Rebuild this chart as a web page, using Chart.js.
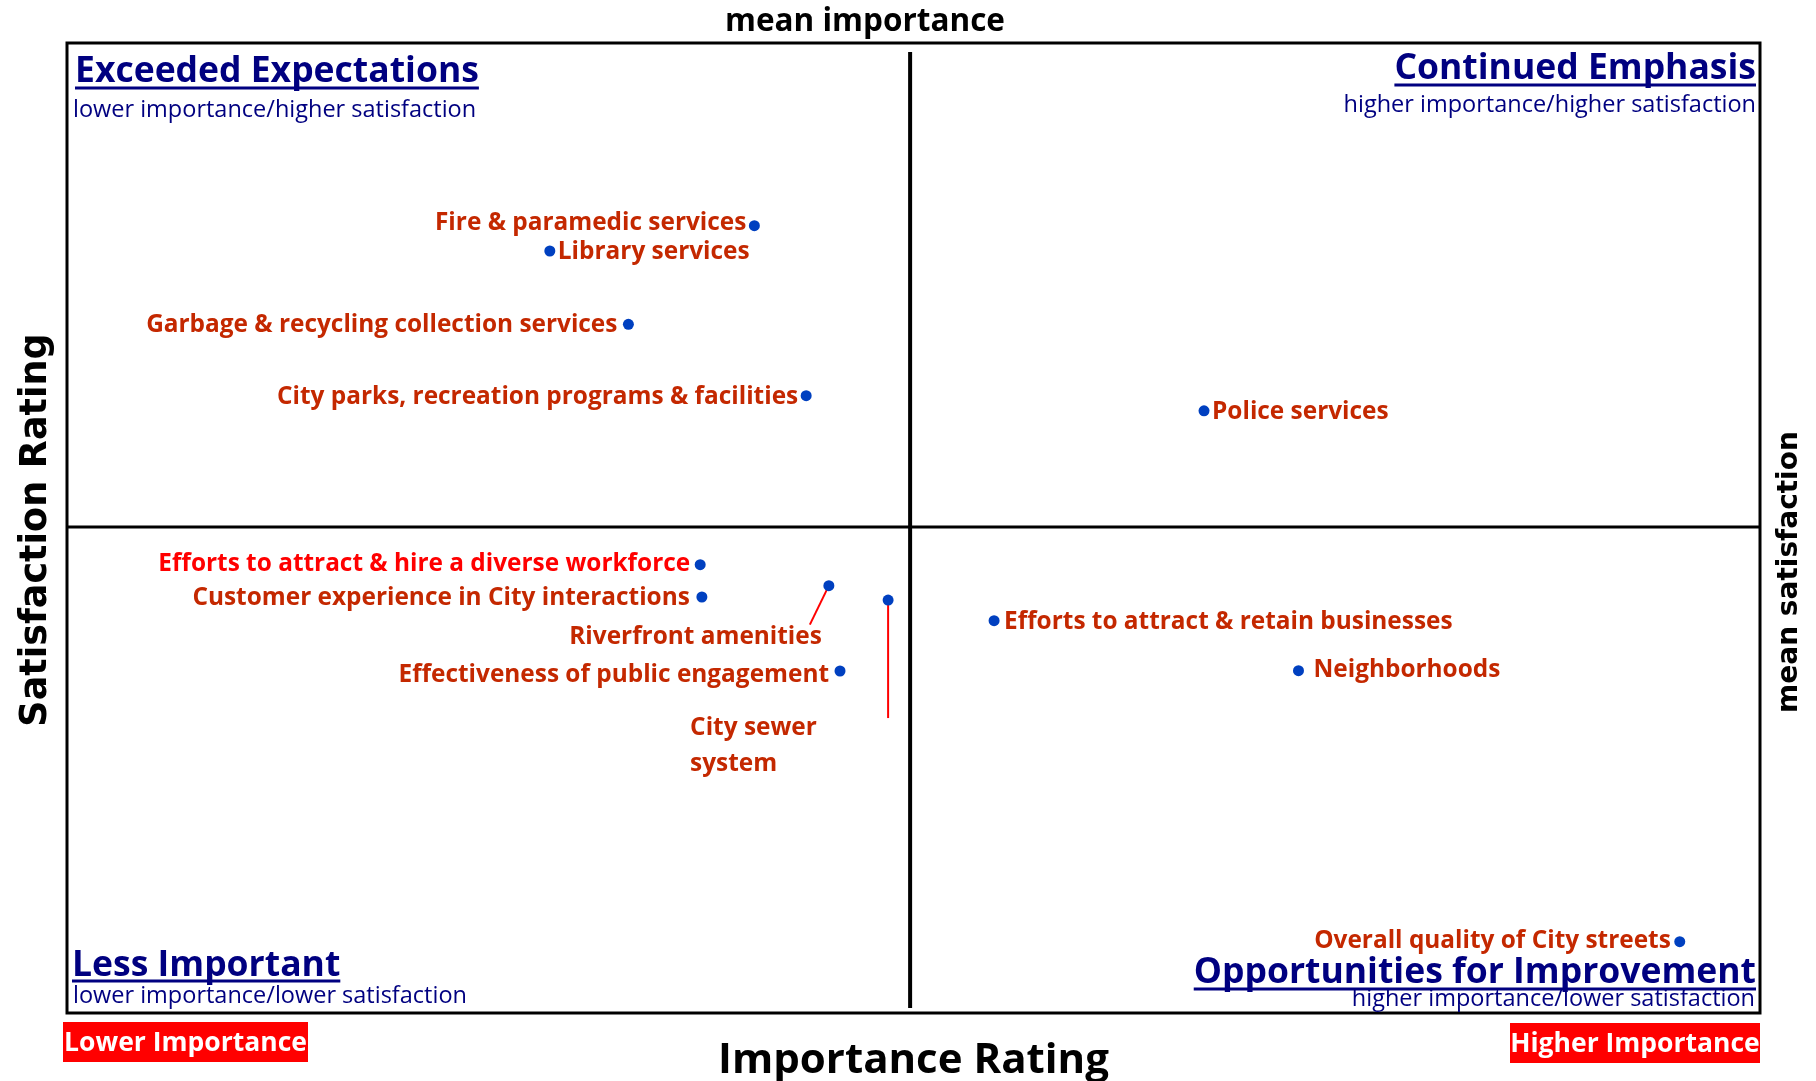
<!DOCTYPE html>
<html>
<head>
<meta charset="utf-8">
<script src="https://cdn.jsdelivr.net/npm/chart.js@4/dist/chart.umd.min.js"></script>
<style>
  html, body { margin: 0; padding: 0; background: #fff; }
  #wrap { width: 1816px; height: 1081px; }
</style>
</head>
<body>
<div id="wrap"><canvas id="matrix" width="1816" height="1081"></canvas></div>
<script>
// Importance-Satisfaction matrix data
const services = [
    'Fire & paramedic services',
    'Library services',
    'Garbage & recycling collection services',
    'City parks, recreation programs & facilities',
    'Police services',
    'Efforts to attract & hire a diverse workforce',
    'Customer experience in City interactions',
    'Riverfront amenities',
    'Effectiveness of public engagement',
    'City sewer system',
    'Efforts to attract & retain businesses',
    'Neighborhoods',
    'Overall quality of City streets'
];
const importance   = [20.30, 14.26, 16.58, 21.83, 33.58, 18.70, 18.75, 22.50, 22.83, 24.25, 27.38, 36.37, 47.63];
const satisfaction = [76.82, 74.99, 69.70, 64.55, 63.46, 52.35, 50.02, 50.84, 44.68, 49.80, 48.31, 44.70, 25.15];
const meanImportance = 24.90;
const meanSatisfaction = 55.07;
const importanceRange = [0, 50];
const satisfactionRange = [20, 90];

// label placement (side of the point, gap, baseline nudge, colour, leader line)
const RED_BROWN = '#C42800';
const labelStyle = [
    { side: 'left',  gap: 8,  dy: -4 },
    { side: 'right', gap: 8,  dy: 0 },
    { side: 'left',  gap: 11, dy: 0 },
    { side: 'left',  gap: 8,  dy: 0 },
    { side: 'right', gap: 8,  dy: 0 },
    { side: 'left',  gap: 10, dy: -2, color: '#FF0000' },
    { side: 'left',  gap: 12, dy: 0 },
    { side: 'left',  gap: 7,  dy: 50, leader: [-19, 39] },
    { side: 'left',  gap: 11, dy: 3 },
    { side: 'block', dx: -198, dy: 135, lineGap: 36, lines: ['City sewer', 'system'], leader: [0, 118] },
    { side: 'right', gap: 10, dy: 0 },
    { side: 'right', gap: 15, dy: -2 },
    { side: 'left',  gap: 9,  dy: -2 }
];

const NAVY = '#000080';
const LABEL_FONT = 'bold 24.4px "Open Sans"';

function underlinedTitle(ctx, text, x, y, align, uy) {
    ctx.font = 'bold 35.5px "Open Sans"';
    ctx.fillStyle = NAVY;
    ctx.textAlign = align;
    ctx.textBaseline = 'alphabetic';
    ctx.fillText(text, x, y);
    const w = ctx.measureText(text).width;
    const x0 = align === 'left' ? x : x - w;
    ctx.fillRect(x0, uy - 1.5, w, 3);
}

function subtitle(ctx, text, x, y, align) {
    ctx.font = '23.5px "Open Sans"';
    ctx.fillStyle = NAVY;
    ctx.textAlign = align;
    ctx.textBaseline = 'alphabetic';
    ctx.fillText(text, x, y);
}

function redTag(ctx, text, x0, y0, x1, y1) {
    ctx.fillStyle = '#FF0000';
    ctx.fillRect(x0, y0, x1 - x0, y1 - y0);
    ctx.font = 'bold 26.5px "Open Sans"';
    ctx.fillStyle = '#FFFFFF';
    ctx.textAlign = 'center';
    ctx.textBaseline = 'middle';
    ctx.fillText(text, (x0 + x1) / 2, (y0 + y1) / 2 + 1);
}

const matrixPlugin = {
    id: 'matrixDecor',
    beforeDatasetsDraw(chart) {
        const { ctx, chartArea: a, scales } = chart;
        ctx.save();
        // quadrant dividers
        const mx = scales.x.getPixelForValue(meanImportance);
        const my = scales.y.getPixelForValue(meanSatisfaction);
        ctx.strokeStyle = '#000';
        ctx.lineWidth = 4;
        ctx.beginPath();
        ctx.moveTo(mx, a.top + 9);
        ctx.lineTo(mx, a.bottom - 5);
        ctx.stroke();
        ctx.lineWidth = 3;
        ctx.beginPath();
        ctx.moveTo(a.left, my);
        ctx.lineTo(a.right, my);
        ctx.stroke();
        // frame
        ctx.strokeRect(a.left, a.top, a.right - a.left, a.bottom - a.top);

        // leader lines
        ctx.strokeStyle = '#FF0000';
        ctx.lineWidth = 2;
        labelStyle.forEach((st, i) => {
            if (!st.leader) return;
            const px = scales.x.getPixelForValue(importance[i]);
            const py = scales.y.getPixelForValue(satisfaction[i]);
            ctx.beginPath();
            ctx.moveTo(px, py);
            ctx.lineTo(px + st.leader[0], py + st.leader[1]);
            ctx.stroke();
        });
        ctx.restore();
    },
    afterDatasetsDraw(chart) {
        const { ctx, chartArea: a, scales } = chart;
        ctx.save();

        // point labels
        ctx.font = LABEL_FONT;
        ctx.textBaseline = 'alphabetic';
        services.forEach((name, i) => {
            const st = labelStyle[i];
            const px = scales.x.getPixelForValue(importance[i]);
            const py = scales.y.getPixelForValue(satisfaction[i]);
            ctx.fillStyle = st.color || RED_BROWN;
            if (st.side === 'block') {
                ctx.textAlign = 'left';
                st.lines.forEach((ln, k) => ctx.fillText(ln, px + st.dx, py + st.dy + k * st.lineGap));
            } else if (st.side === 'left') {
                ctx.textAlign = 'right';
                ctx.fillText(name, px - st.gap, py + 8 + st.dy);
            } else {
                ctx.textAlign = 'left';
                ctx.fillText(name, px + st.gap, py + 8 + st.dy);
            }
        });

        // quadrant names
        underlinedTitle(ctx, 'Exceeded Expectations', a.left + 8, 82, 'left', 88);
        subtitle(ctx, 'lower importance/higher satisfaction', a.left + 6, 117, 'left');
        underlinedTitle(ctx, 'Continued Emphasis', a.right - 4, 79, 'right', 85);
        subtitle(ctx, 'higher importance/higher satisfaction', a.right - 4, 112, 'right');
        underlinedTitle(ctx, 'Less Important', a.left + 5, 976, 'left', 981);
        subtitle(ctx, 'lower importance/lower satisfaction', a.left + 6, 1003, 'left');
        underlinedTitle(ctx, 'Opportunities for Improvement', a.right - 4, 983, 'right', 989);
        subtitle(ctx, 'higher importance/lower satisfaction', a.right - 5, 1006, 'right');

        // axis captions
        ctx.fillStyle = '#000';
        ctx.textAlign = 'center';
        ctx.textBaseline = 'alphabetic';
        ctx.font = 'bold 31.5px "Open Sans"';
        ctx.fillText('mean importance', 865, 31);
        ctx.font = 'bold 42px "Open Sans"';
        ctx.fillText('Importance Rating', (a.left + a.right) / 2, 1073);

        ctx.save();
        ctx.translate(46, 530);
        ctx.rotate(-Math.PI / 2);
        ctx.font = 'bold 36.5px "DejaVu Sans"';
        ctx.fillText('Satisfaction Rating', 0, 0);
        ctx.restore();

        ctx.save();
        ctx.translate(1797, 572);
        ctx.rotate(-Math.PI / 2);
        ctx.font = 'bold 28px "DejaVu Sans"';
        ctx.fillText('mean satisfaction', 0, 0);
        ctx.restore();

        redTag(ctx, 'Lower Importance', 63, 1022, 308, 1062);
        redTag(ctx, 'Higher Importance', 1510, 1023, 1760, 1063);
        ctx.restore();
    }
};

const ctx = document.getElementById('matrix');
new Chart(ctx, {
    type: 'scatter',
    data: {
        datasets: [{
            label: 'Services',
            data: services.map((s, i) => ({ x: importance[i], y: satisfaction[i] })),
            pointRadius: 5.5,
            pointBackgroundColor: '#0040C0',
            pointBorderWidth: 0,
            clip: false
        }]
    },
    options: {
        responsive: false,
        animation: false,
        devicePixelRatio: 1,
        layout: { padding: { left: 67, right: 56, top: 43, bottom: 68 } },
        plugins: {
            legend: { display: false },
            tooltip: { enabled: false }
        },
        scales: {
            x: { type: 'linear', min: importanceRange[0], max: importanceRange[1], display: false },
            y: { type: 'linear', min: satisfactionRange[0], max: satisfactionRange[1], display: false }
        }
    },
    plugins: [matrixPlugin]
});
</script>
</body>
</html>
